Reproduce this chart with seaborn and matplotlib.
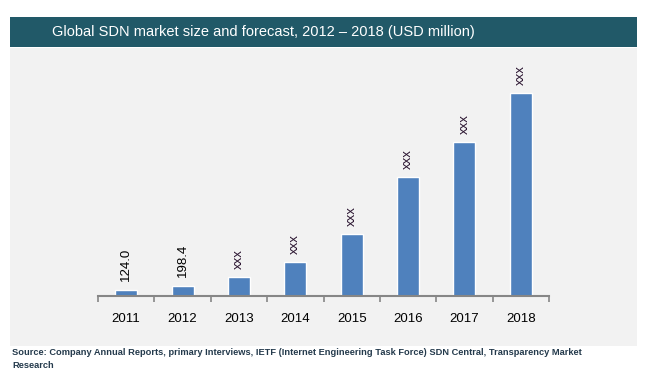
import matplotlib
matplotlib.use("Agg")
import matplotlib.pyplot as plt
from matplotlib.patches import Rectangle
from matplotlib.ticker import FixedLocator
import seaborn as sns
import pandas as pd

###############
# data
###############
years = ['2011', '2012', '2013', '2014', '2015', '2016', '2017', '2018']
market_size = [124.0, 198.4, 370, 660, 1210, 2320, 3000, 3960]
bar_labels = ['124.0', '198.4', 'xxx', 'xxx', 'xxx', 'xxx', 'xxx', 'xxx']

title_text = 'Global SDN market size and forecast, 2012 \u2013 2018 (USD million)'
source_text = ('Source: Company Annual Reports, primary Interviews, IETF (Internet Engineering Task Force) '
               'SDN Central, Transparency Market\nResearch')

df = pd.DataFrame({'year': years, 'value': market_size})

W, H = 649, 379
sns.set_style('white')
plt.rcParams['font.family'] = ['Liberation Sans', 'DejaVu Sans']

fig = plt.figure(figsize=(W / 100, H / 100), dpi=100)
fig.patch.set_facecolor('white')

# grey panel + title banner (figure pixels -> fractions)
def px_rect(x0, y0, x1, y1, color):
    fig.patches.append(Rectangle((x0 / W, 1 - y1 / H), (x1 - x0) / W, (y1 - y0) / H,
                                 transform=fig.transFigure, facecolor=color,
                                 edgecolor='none', zorder=-5))

px_rect(10, 48, 637, 346, '#f2f2f2')
px_rect(10, 17, 637, 47, '#215968')
fig.text(52 / W, 1 - 32 / H, title_text, color='white', fontsize=10.5,
         va='center', ha='left')

ax = fig.add_axes([98 / W, 1 - 296 / H, (549 - 98) / W, (296 - 60) / H])
ax.set_facecolor('none')
ax.set_zorder(2)

sns.barplot(data=df, x='year', y='value', color='#4f81bd', saturation=1,
            width=0.39, ax=ax)

ax.set_xlim(-0.5, len(years) - 0.5)
ax.set_ylim(0, 236 * 19.5)

for i, (v, lab) in enumerate(zip(market_size, bar_labels)):
    col = 'black' if lab != 'xxx' else '#2a1430'
    ax.annotate(lab, (i, v), xytext=(0, 6), textcoords='offset points',
                rotation=90, ha='center', va='bottom', fontsize=9.5, color=col)

for s in ['top', 'right', 'left']:
    ax.spines[s].set_visible(False)
ax.spines['bottom'].set_color('#868686')
ax.spines['bottom'].set_linewidth(1.5)

ax.set_yticks([])
ax.set_xlabel('')
ax.set_ylabel('')
ax.tick_params(axis='x', which='major', bottom=False, length=0, pad=12,
               labelsize=9.5, labelcolor='black')
ax.xaxis.set_minor_locator(FixedLocator([i - 0.5 for i in range(len(years) + 1)]))
ax.tick_params(axis='x', which='minor', bottom=True, length=4, width=1.2,
               color='#868686', direction='out')

fig.text(12 / W, 1 - 348 / H, source_text, fontsize=6.7, fontweight='bold',
         color='#243a4c', va='top', ha='left', linespacing=1.5)

fig.savefig('out.png', dpi=100, facecolor='white')
